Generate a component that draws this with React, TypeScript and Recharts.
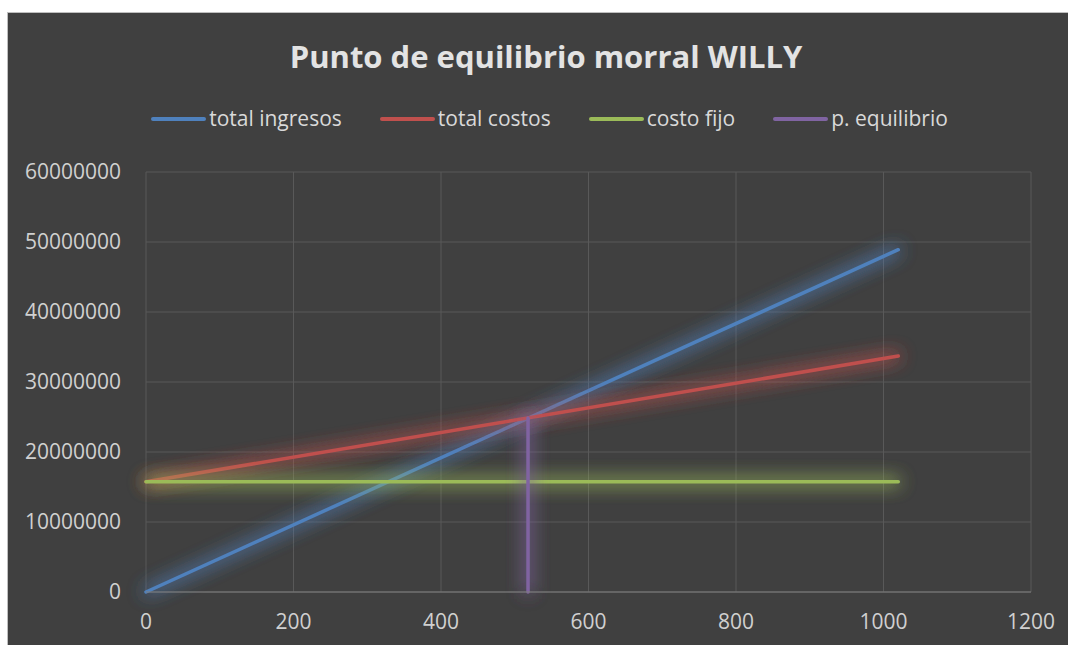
import { CartesianGrid, Legend, Line, LineChart, XAxis, YAxis } from "recharts"

const unidades = [0, 1020]
const totalIngresos = [0, 48900000]
const totalCostos = [15750000, 33700000]
const costoFijo = [15750000, 15750000]
const equilibrioX = [518, 518]
const equilibrioY = [0, 24850000]

const xTicks = [0, 200, 400, 600, 800, 1000, 1200]
const yTicks = [0, 10000000, 20000000, 30000000, 40000000, 50000000, 60000000]

const series = [
  { name: "total ingresos", color: "#4f81bd", data: unidades.map((u, i) => ({ x: u, y: totalIngresos[i] })) },
  { name: "total costos", color: "#c0504d", data: unidades.map((u, i) => ({ x: u, y: totalCostos[i] })) },
  { name: "costo fijo", color: "#9bbb59", data: unidades.map((u, i) => ({ x: u, y: costoFijo[i] })) },
  { name: "p. equilibrio", color: "#8064a2", data: equilibrioX.map((u, i) => ({ x: u, y: equilibrioY[i] })) },
]

const font = "'Open Sans', sans-serif"

function LegendContent() {
  return (
    <div style={{ display: "flex", justifyContent: "center", gap: 38, paddingLeft: 22, fontFamily: font, fontSize: 21, color: "#d9d9d9", lineHeight: "27px" }}>
      {series.map((s) => (
        <div key={s.name} style={{ display: "flex", alignItems: "center" }}>
          <span style={{ display: "inline-block", width: 55, height: 4, borderRadius: 2, background: s.color, marginRight: 3 }} />
          <span>{s.name}</span>
        </div>
      ))}
    </div>
  )
}

export default function App() {
  return (
    <div style={{ position: "fixed", left: 0, top: 0, width: 1068, height: 645, background: "#fff", overflow: "hidden" }}>
      <style>{`.recharts-line-curve { filter: url(#glow); }`}</style>
      <svg width={0} height={0} style={{ position: "absolute" }}>
        <defs>
          <filter id="glow" filterUnits="userSpaceOnUse" x="0" y="0" width="1061" height="633">
            <feGaussianBlur in="SourceGraphic" stdDeviation="9" result="blur" />
            <feComponentTransfer in="blur" result="soft">
              <feFuncA type="linear" slope="2.3" />
            </feComponentTransfer>
            <feMerge>
              <feMergeNode in="soft" />
              <feMergeNode in="SourceGraphic" />
            </feMerge>
          </filter>
        </defs>
      </svg>
      <div
        style={{
          position: "absolute",
          left: 7,
          top: 12,
          width: 1070,
          height: 650,
          background: "#404040",
          border: "1px solid #bfbfbf",
        }}
      >
        <div
          style={{
            position: "absolute",
            left: 0,
            width: 1076,
            top: 22,
            textAlign: "center",
            fontFamily: font,
            fontWeight: 700,
            fontSize: 31,
            color: "#e3e3e3",
          }}
        >
          Punto de equilibrio morral WILLY
        </div>
        <LineChart width={1061} height={633} margin={{ top: 132, right: 38, left: 18, bottom: 14 }}>
          <CartesianGrid stroke="#595959" strokeWidth={1} />
          <XAxis
            type="number"
            dataKey="x"
            domain={[0, 1200]}
            ticks={xTicks}
            height={40}
            tickLine={false}
            axisLine={{ stroke: "#7f7f7f" }}
            tick={{ fill: "#d0d0d0", fontSize: 21, fontFamily: font }}
            tickMargin={16}
            allowDuplicatedCategory={false}
          />
          <YAxis
            type="number"
            domain={[0, 60000000]}
            ticks={yTicks}
            width={120}
            tickLine={false}
            axisLine={false}
            tick={{ fill: "#d0d0d0", fontSize: 21, fontFamily: font }}
            tickMargin={19}
          />
          <Legend
            verticalAlign="top"
            content={LegendContent}
            wrapperStyle={{ top: 92, left: 0, width: 1061 }}
          />
          {series.map((s) => (
            <Line
              key={s.name}
              data={s.data}
              dataKey="y"
              name={s.name}
              type="linear"
              stroke={s.color}
              strokeWidth={3.5}
              strokeLinecap="round"
              dot={false}
              activeDot={false}
              isAnimationActive={false}
            />
          ))}
        </LineChart>
      </div>
    </div>
  )
}
